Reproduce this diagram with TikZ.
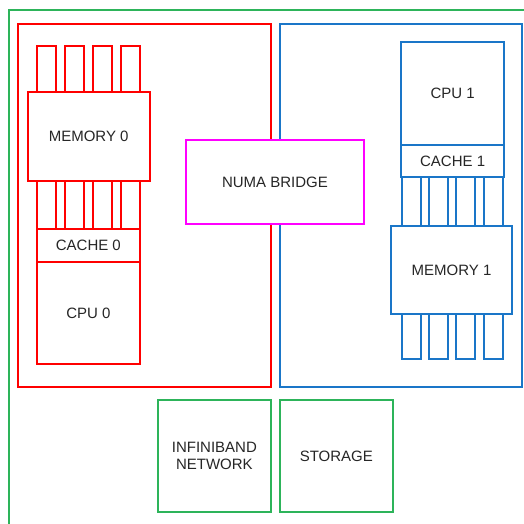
\documentclass[tikz,border=0pt]{standalone}
\usepackage{fontspec}
\setmainfont{Liberation Sans}
\definecolor{cgreen}{RGB}{45,180,90}
\definecolor{cblue}{RGB}{26,118,200}
\definecolor{cred}{RGB}{255,0,0}
\definecolor{cmag}{RGB}{255,0,255}
\begin{document}
\begin{tikzpicture}[x=1pt,y=-1pt,
  box/.style={draw,line width=1.8pt,fill=white,inner sep=0pt,align=center,
    font=\fontsize{15}{16.5}\selectfont,text=black!85},
  redbox/.style={box,draw=cred},
  bluebox/.style={box,draw=cblue},
  greenbox/.style={box,draw=cgreen},
  magbox/.style={box,draw=cmag},
  bar/.style={minimum width=19pt}]
\useasboundingbox (0,0) rectangle (524,523);
\clip (0,0) rectangle (524,523);
\node[greenbox,fill=none,minimum width=521pt,minimum height=520pt] (outer) at (269.5,270) {};
\node[redbox,minimum width=253pt,minimum height=363pt] (node0) at (144.5,205.5) {};
\node[bluebox,minimum width=242pt,minimum height=363pt] (node1) at (401,205.5) {};
\node[magbox,minimum width=178pt,minimum height=84pt] (numa) at (275,182) {NUMA BRIDGE};
% left memory bars
\foreach \x [count=\i] in {46.2,74.5,102.5,130.5}
  \node[redbox,bar,minimum height=183.3pt] (lbar\i) at (\x,137.35) {};
\node[redbox,minimum width=122pt,minimum height=88.7pt] (mem0) at (88.7,136.65) {MEMORY 0};
\node[redbox,minimum width=103.3pt,minimum height=32.7pt] (cache0) at (88.35,245.35) {CACHE 0};
\node[redbox,minimum width=103.3pt,minimum height=102.6pt] (cpu0) at (88.35,313) {CPU 0};
% right side
\foreach \x [count=\i] in {411.8,438.65,465.2,493.2}
  \node[bluebox,bar,minimum height=182.6pt] (rbar\i) at (\x,268) {};
\node[bluebox,minimum width=103.3pt,minimum height=102.7pt] (cpu1) at (452.65,93.65) {CPU 1};
\node[bluebox,minimum width=103.3pt,minimum height=31.7pt] (cache1) at (452.65,160.85) {CACHE 1};
\node[bluebox,minimum width=121.6pt,minimum height=88.3pt] (mem1) at (451.5,270.15) {MEMORY 1};
% bottom
\node[greenbox,minimum width=112.7pt,minimum height=111.7pt] (ib) at (214.35,455.85) {INFINIBAND\\NETWORK};
\node[greenbox,minimum width=112.7pt,minimum height=111.7pt] (storage) at (336.35,455.85) {STORAGE};
\end{tikzpicture}
\end{document}
